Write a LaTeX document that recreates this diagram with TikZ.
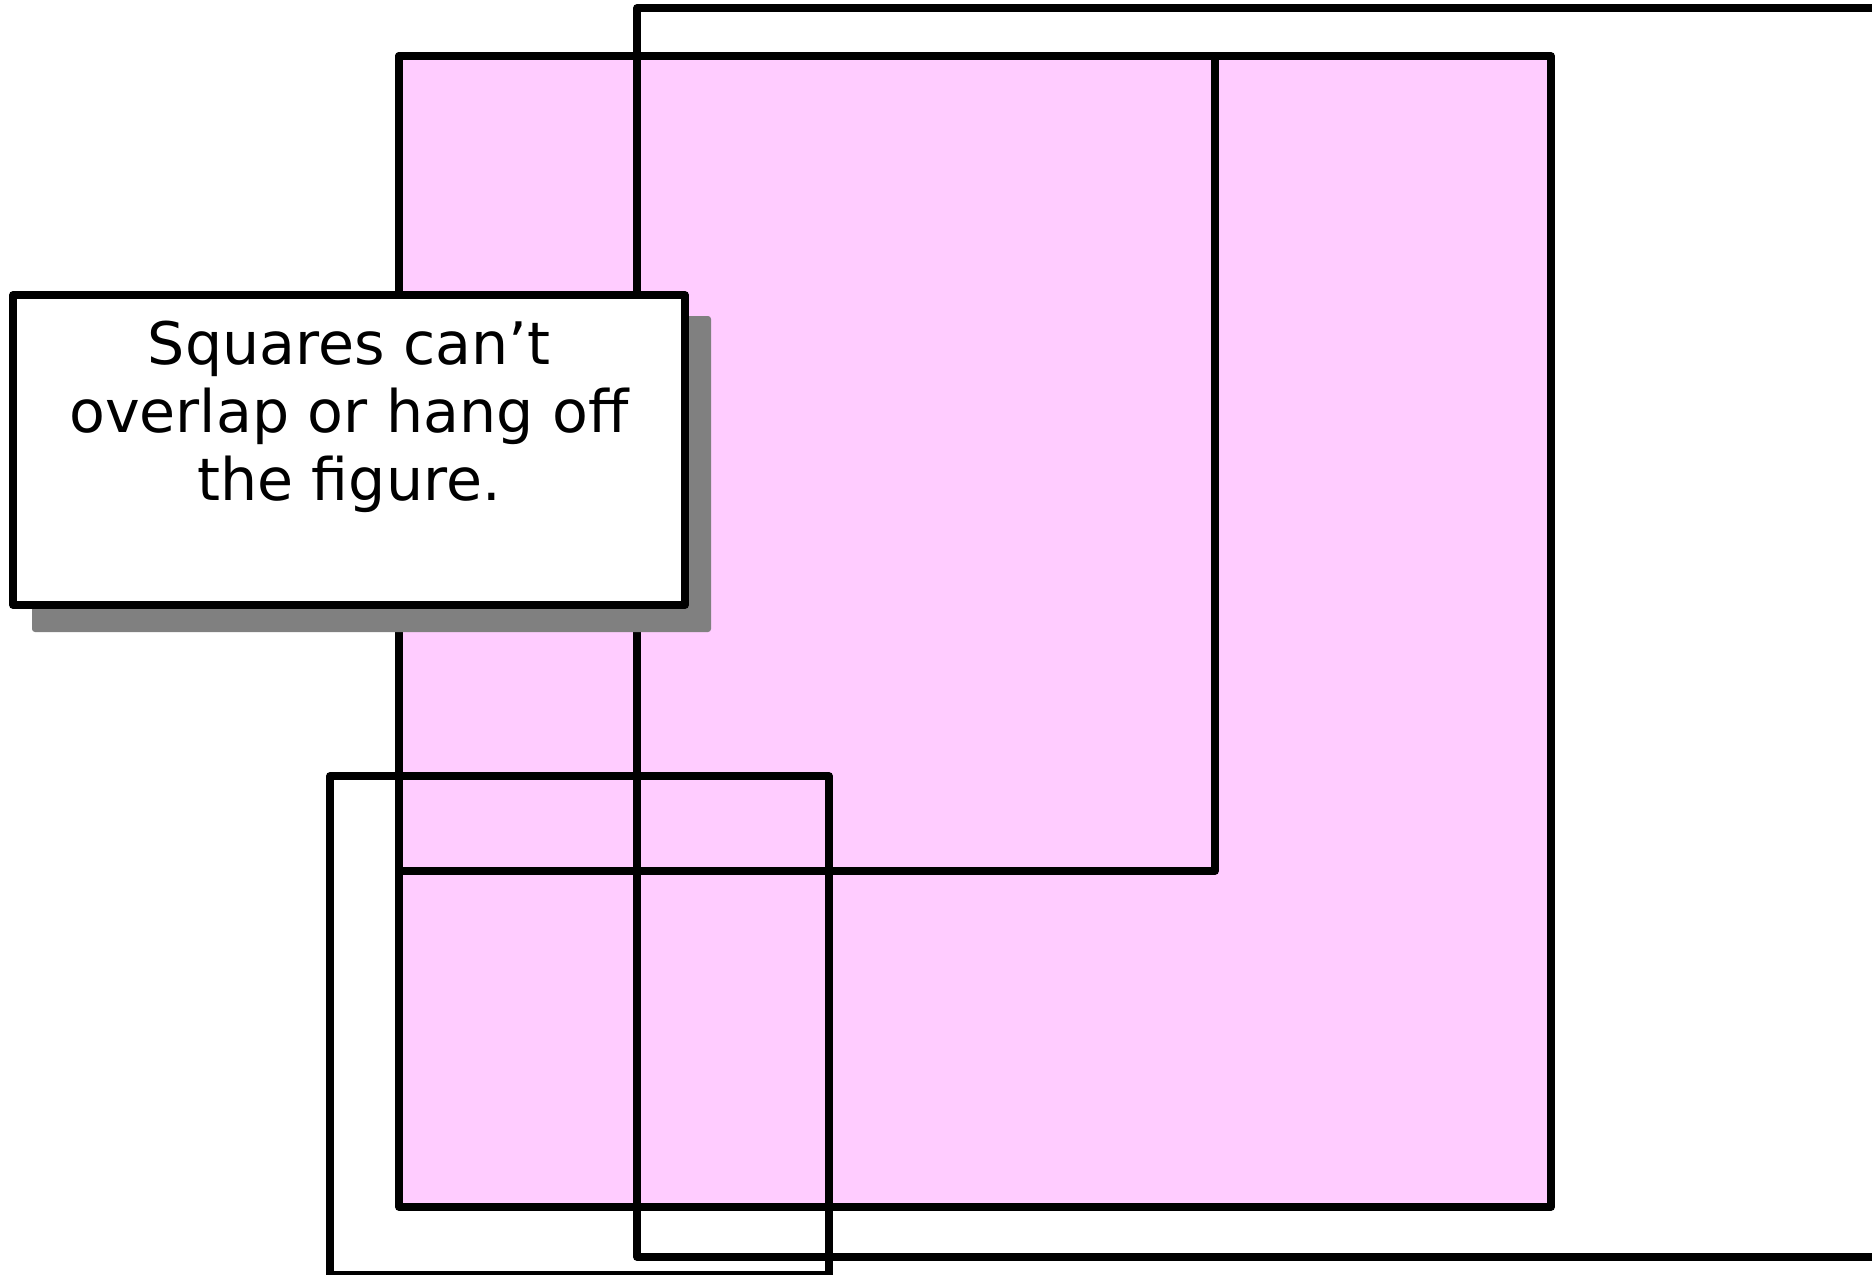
\documentclass[tikz,border=0pt]{standalone}
\usepackage{fontspec}
\setmainfont{DejaVu Sans}
\definecolor{pinkfill}{RGB}{255,204,255}
\definecolor{shadowgray}{RGB}{128,128,128}
\begin{document}
\begin{tikzpicture}[x=0.5pt,y=-0.5pt,
  sq/.style={draw=black,line width=3.85pt,line join=round},
  shadowbox/.style={fill=shadowgray,rounded corners=1.5pt},
  notebox/.style={fill=white,draw=black,line width=3.85pt,line join=round},
  notetext/.style={font=\fontsize{29.3}{34}\selectfont,align=center,inner sep=0pt,anchor=north}]
\useasboundingbox (0,0) rectangle (1872,1274);
% big pink square
\draw[sq,fill=pinkfill] (399,56) rectangle (1551,1207);
% inner square
\draw[sq] (399,56) rectangle (1215,871);
% square hanging off the right
\draw[sq] (637,8) rectangle (1890,1257);
% square hanging off the bottom
\draw[sq] (330,776) rectangle (829,1274.5);
% note with shadow
\fill[shadowbox] (32,316) rectangle (711,632);
\draw[notebox] (13,295) rectangle (685,605);
\node[notetext] (note) at (349,321) {Squares can’t\\overlap or hang off\\the figure.};
\end{tikzpicture}
\end{document}
